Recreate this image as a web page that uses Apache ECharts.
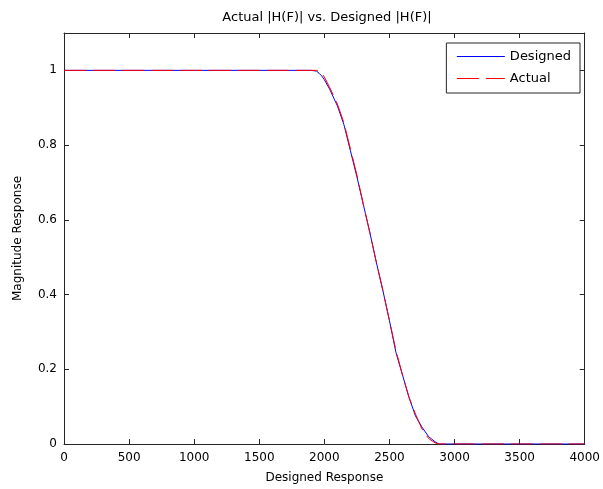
<!DOCTYPE html>
<html>
<head>
<meta charset="utf-8">
<script src="https://cdn.jsdelivr.net/npm/echarts@6/dist/echarts.min.js"></script>
<style>html,body{margin:0;padding:0;background:#fff}#c{width:603px;height:489px}</style>
</head>
<body>
<div id="c"></div>
<script>
var freq = [0, 500, 1000, 1500, 1900, 1940, 1960, 1980, 2000, 2040, 2100, 2150, 2200, 2250, 2300, 2350, 2400, 2450, 2500, 2550, 2600, 2650, 2700, 2750, 2800, 2850, 2880, 2900, 3000, 3500, 4000];
var designed = [1, 1, 1, 1, 1, 0.998, 0.992, 0.985, 0.975, 0.95, 0.905, 0.855, 0.785, 0.715, 0.64, 0.565, 0.485, 0.41, 0.33, 0.245, 0.185, 0.125, 0.075, 0.045, 0.02, 0.006, 0, 0, 0, 0, 0];
var actual = [1, 1, 1, 1, 1, 1, 0.998, 0.993, 0.982, 0.955, 0.91, 0.86, 0.79, 0.72, 0.64, 0.565, 0.485, 0.41, 0.33, 0.25, 0.185, 0.125, 0.08, 0.04, 0.015, 0.003, 0, 0, 0, 0, 0];
var xTicks = [0, 500, 1000, 1500, 2000, 2500, 3000, 3500, 4000];
var yTicks = [0, 0.2, 0.4, 0.6, 0.8, 1];

function pairs(xs, ys) { return xs.map(function (x, i) { return [x, ys[i]]; }); }

var font = 'DejaVu Sans, sans-serif';
var axisCol = '#262626';
var dash = [22, 7];
var chart = echarts.init(document.getElementById('c'));
var common = {
  axisLine: { show: true, onZero: false, lineStyle: { color: axisCol, width: 1 } },
  axisTick: { show: true, inside: true, length: 5, lineStyle: { color: axisCol } },
  splitLine: { show: false }
};
chart.setOption({
  animation: false,
  backgroundColor: '#fff',
  color: ['#0000ff', '#ff0000'],
  title: {
    text: 'Actual |H(F)| vs. Designed |H(F)|',
    left: 322, top: 6, textAlign: 'center',
    textStyle: { fontFamily: font, fontSize: 13, fontWeight: 'normal', color: '#000' }
  },
  grid: { left: 64, right: 16, top: 33, bottom: 45 },
  legend: {
    data: [
      { name: 'Designed', lineStyle: { color: '#0000ff', width: 1, type: 'solid' } },
      { name: 'Actual', lineStyle: { color: '#ff0000', width: 1, type: dash } }
    ],
    orient: 'vertical',
    right: 23, top: 43,
    itemWidth: 48, itemHeight: 14, itemGap: 9,
    padding: [7, 9, 8, 10],
    backgroundColor: '#fff',
    borderColor: axisCol, borderWidth: 1,
    itemStyle: { opacity: 0 },
    textStyle: { fontFamily: font, fontSize: 13, color: '#000' },
    selectedMode: false
  },
  xAxis: [
    Object.assign({
      type: 'value', min: 0, max: 4000, interval: 500, position: 'bottom',
      name: 'Designed Response', nameLocation: 'middle', nameGap: 28,
      nameTextStyle: { fontFamily: font, fontSize: 12, color: '#000' },
      axisLabel: { fontFamily: font, fontSize: 12, color: '#000', margin: 8, formatter: function (v) { return String(v); } }
    }, common),
    Object.assign({
      type: 'value', min: 0, max: 4000, interval: 500, position: 'top',
      axisLabel: { show: false }
    }, common)
  ],
  yAxis: [
    Object.assign({
      type: 'value', min: 0, max: 1.1, interval: 0.2, position: 'left',
      name: 'Magnitude Response', nameLocation: 'middle', nameGap: 40,
      nameTextStyle: { fontFamily: font, fontSize: 12, color: '#000' },
      axisLabel: {
        fontFamily: font, fontSize: 12, color: '#000', margin: 7,
        formatter: function (v) { return yTicks.some(function (t) { return Math.abs(t - v) < 1e-9; }) ? String(+v.toFixed(1)) : ''; }
      }
    }, common),
    Object.assign({
      type: 'value', min: 0, max: 1.1, interval: 0.2, position: 'right',
      axisLabel: { show: false }
    }, common)
  ],
  series: [
    {
      name: 'Designed', type: 'line', data: pairs(freq, designed),
      showSymbol: false, symbol: 'none', color: '#0000ff',
      itemStyle: { color: '#0000ff' },
      lineStyle: { color: '#0000ff', width: 1, type: 'solid' }
    },
    {
      name: 'Actual', type: 'line', data: pairs(freq, actual),
      showSymbol: false, symbol: 'none', color: '#ff0000',
      itemStyle: { color: '#ff0000' },
      lineStyle: { color: '#ff0000', width: 1, type: dash }
    }
  ]
});
</script>
</body>
</html>
